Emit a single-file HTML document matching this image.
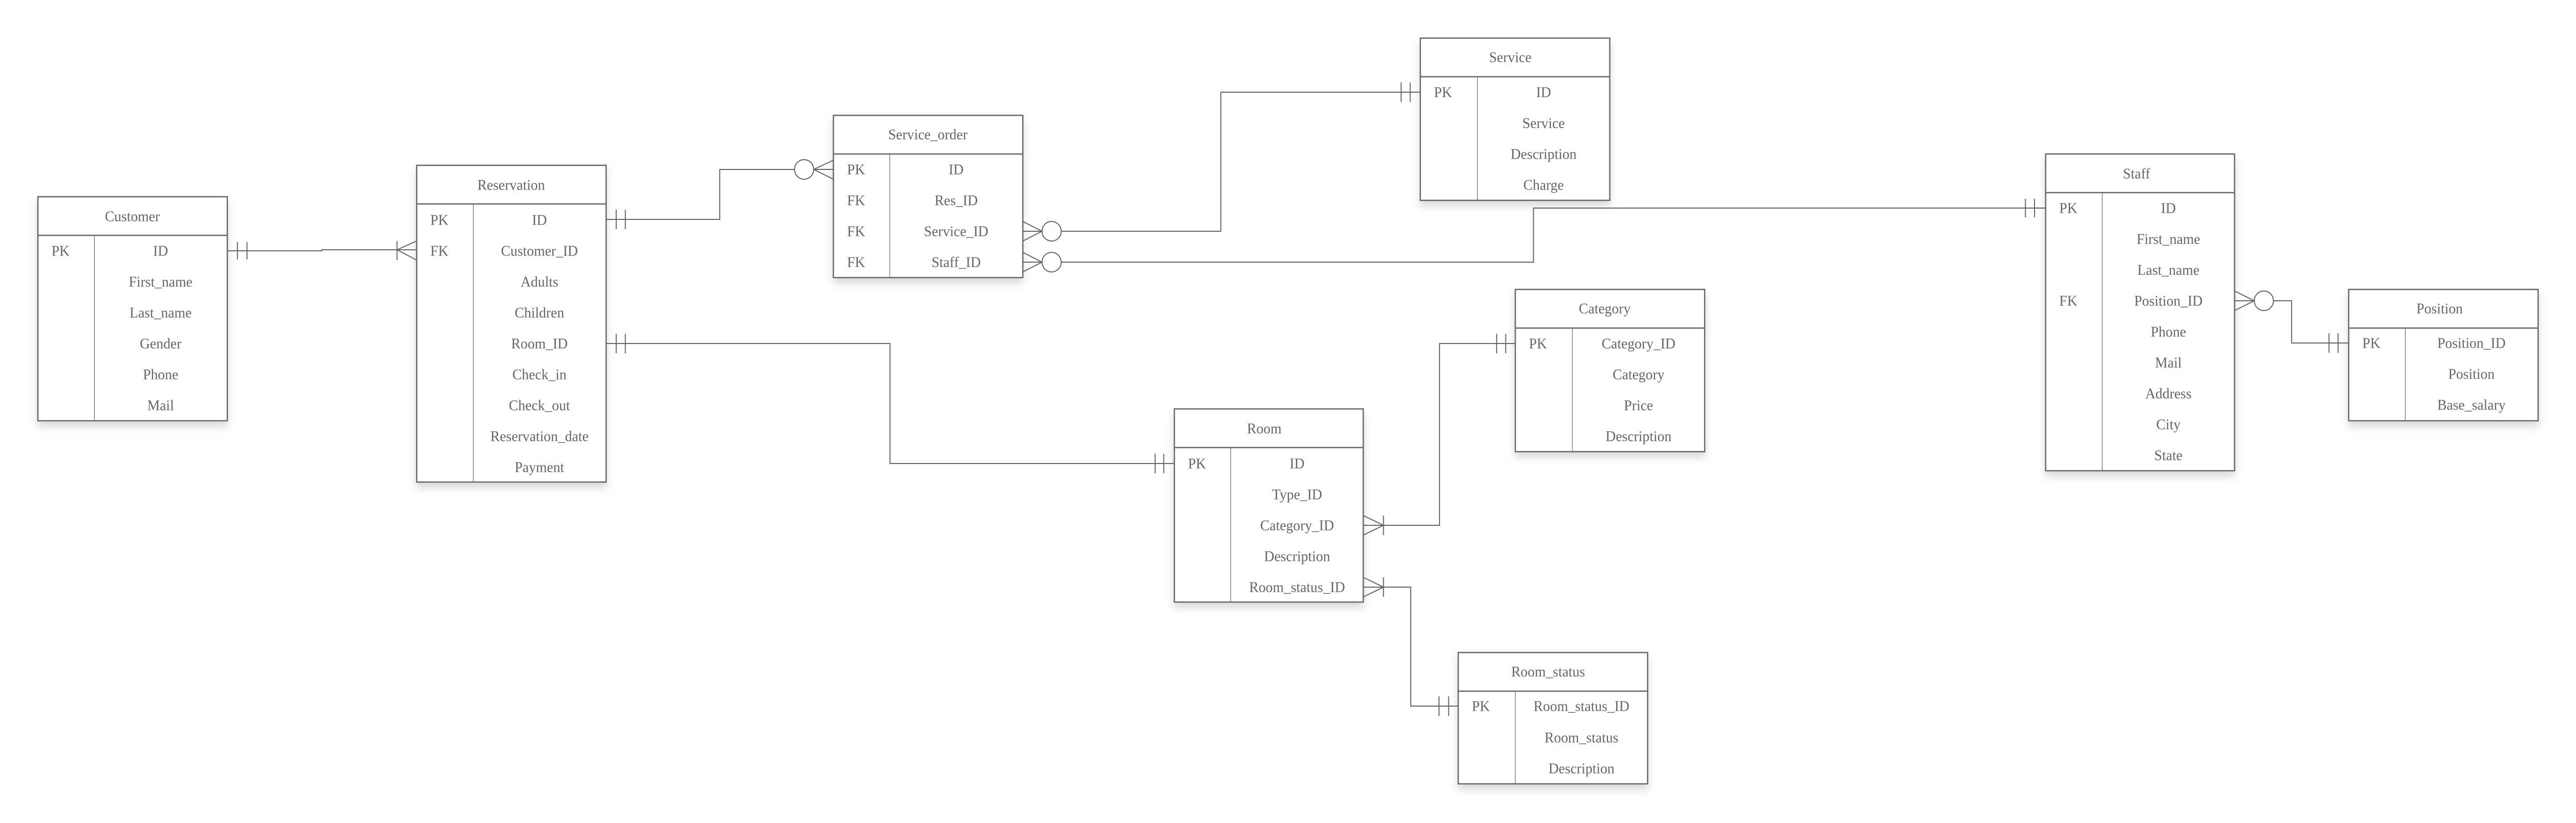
<!DOCTYPE html>
<html><head><meta charset="utf-8"><style>
html,body{margin:0;padding:0;background:#fff;overflow:hidden;width:100%;height:100%;}
svg{display:block;position:fixed;left:0;top:0;width:100vw;height:100vh;}
text{font-family:"Liberation Serif",serif;font-size:28px;fill:#666;}
</style></head><body>
<svg viewBox="0 0 5100 1598" preserveAspectRatio="none" xmlns="http://www.w3.org/2000/svg">
<defs><filter id="sh" x="-10%" y="-10%" width="120%" height="125%"><feDropShadow dx="0" dy="10" stdDeviation="8" flood-color="#000" flood-opacity="0.15"/></filter></defs>
<g fill="#fff" stroke="#666" stroke-width="2.5" filter="url(#sh)">
<rect x="75" y="382" width="375" height="435"/>
<rect x="825" y="321" width="375" height="615"/>
<rect x="1650" y="224" width="375" height="315"/>
<rect x="2812" y="74" width="375" height="315"/>
<rect x="2325" y="794" width="374" height="375"/>
<rect x="3000" y="562" width="375" height="315"/>
<rect x="2887" y="1267" width="375" height="255"/>
<rect x="4050" y="299" width="374" height="615"/>
<rect x="4650" y="562" width="375" height="255"/>
</g>
<g stroke="#666" stroke-width="2.5" fill="none">
<path d="M75 457H450M825 396H1200M1650 299H2025M2812 149H3187M2325 869H2699M3000 637H3375M2887 1342H3262M4050 374H4424M4650 637H5025"/>
</g>
<g stroke="#666" stroke-width="1.2" fill="none">
<path d="M187 457V817M937 396V936M1761.5 299V539M2925 149V389M2436.5 869V1169M3113 637V877M3000 1342V1522M4162 374V914M4762 637V817"/>
</g>
<g text-anchor="middle" dominant-baseline="central">
<text x="262" y="420">Customer</text>
<text x="318" y="487">ID</text><text x="318" y="547">First_name</text><text x="318" y="607">Last_name</text><text x="318" y="667">Gender</text><text x="318" y="727">Phone</text><text x="318" y="787">Mail</text>
<text x="1012" y="359">Reservation</text>
<text x="1068" y="427">ID</text><text x="1068" y="487">Customer_ID</text><text x="1068" y="547">Adults</text><text x="1068" y="607">Children</text><text x="1068" y="667">Room_ID</text><text x="1068" y="727">Check_in</text><text x="1068" y="787">Check_out</text><text x="1068" y="847">Reservation_date</text><text x="1068" y="907">Payment</text>
<text x="1837" y="261">Service_order</text>
<text x="1893" y="329">ID</text><text x="1893" y="389">Res_ID</text><text x="1893" y="449">Service_ID</text><text x="1893" y="509">Staff_ID</text>
<text x="2990" y="111">Service</text>
<text x="3056" y="179">ID</text><text x="3056" y="239">Service</text><text x="3056" y="299">Description</text><text x="3056" y="359">Charge</text>
<text x="2503" y="832">Room</text>
<text x="2568" y="900">ID</text><text x="2568" y="960">Type_ID</text><text x="2568" y="1020">Category_ID</text><text x="2568" y="1080">Description</text><text x="2568" y="1140">Room_status_ID</text>
<text x="3177" y="599">Category</text>
<text x="3244" y="667">Category_ID</text><text x="3244" y="727">Category</text><text x="3244" y="787">Price</text><text x="3244" y="847">Description</text>
<text x="3065" y="1304">Room_status</text>
<text x="3131" y="1371">Room_status_ID</text><text x="3131" y="1432">Room_status</text><text x="3131" y="1492">Description</text>
<text x="4230" y="337">Staff</text>
<text x="4293" y="404">ID</text><text x="4293" y="464">First_name</text><text x="4293" y="524">Last_name</text><text x="4293" y="584">Position_ID</text><text x="4293" y="644">Phone</text><text x="4293" y="704">Mail</text><text x="4293" y="764">Address</text><text x="4293" y="824">City</text><text x="4293" y="884">State</text>
<text x="4830" y="599">Position</text>
<text x="4893" y="666">Position_ID</text><text x="4893" y="726">Position</text><text x="4893" y="786">Base_salary</text>
</g>
<g dominant-baseline="central">
<text x="102" y="487">PK</text>
<text x="852" y="427">PK</text><text x="852" y="487">FK</text>
<text x="1677" y="329">PK</text><text x="1677" y="389">FK</text><text x="1677" y="449">FK</text><text x="1677" y="509">FK</text>
<text x="2839" y="179">PK</text>
<text x="2352" y="900">PK</text>
<text x="3027" y="667">PK</text>
<text x="2914" y="1371">PK</text>
<text x="4077" y="404">PK</text><text x="4077" y="584">FK</text>
<text x="4677" y="666">PK</text>
</g>
<g stroke="#666" stroke-width="2" fill="none">
<path d="M450 487H637V485H825M470 470V504M489 470V504M786 485L825 468M786 485L825 505M786 468V505"/>
<path d="M1200 426H1425V329H1573M1220 407V445M1238 407V445M1611 329H1650M1611 329L1650 311M1611 329L1650 348"/>
<circle cx="1592" cy="329" r="19"/>
<path d="M2025 430L2063 449L2025 468M2025 449H2063M2101 449H2417V179H2812M2774 160V198M2792 160V198"/>
<circle cx="2082" cy="449" r="19"/>
<path d="M2025 490L2063 509L2025 528M2025 509H2063M2101 509H3036V404H4050M4010 386V422M4028 386V422"/>
<circle cx="2082" cy="509" r="19"/>
<path d="M1200 667H1762V900H2325M1220 648V686M1238 648V686M2287 881V919M2304 881V919"/>
<path d="M2699 1001L2739 1020L2699 1039M2739 1001V1039M2699 1020H2850V667H3000M2963 648V686M2981 648V686"/>
<path d="M2699 1121L2739 1140L2699 1159M2739 1121V1159M2699 1140H2793V1371H2887M2849 1352V1390M2868 1352V1390"/>
<path d="M4424 565L4463 584L4424 603M4424 584H4463M4501 584H4537V666H4650M4611 647V685M4629 647V685"/>
<circle cx="4482" cy="584" r="19"/>
</g>
</svg>
</body></html>
